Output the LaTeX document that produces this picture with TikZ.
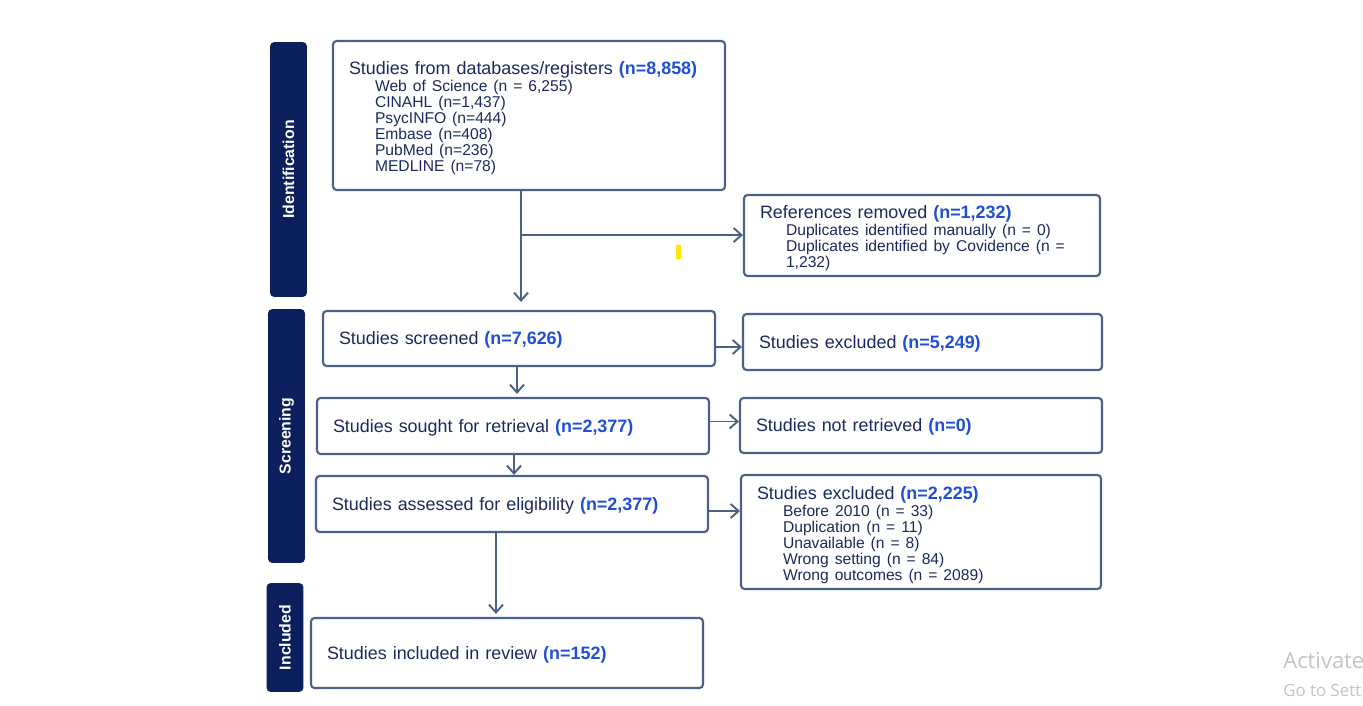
\documentclass[tikz,border=0pt]{standalone}
\usepackage{fontspec}
\setmainfont{Liberation Sans}
\newfontfamily\wmfont{Open Sans}
\usetikzlibrary{arrows.meta}
\definecolor{navy}{HTML}{0B1F5C}
\definecolor{txtnavy}{HTML}{1B2A5E}
\definecolor{nblue}{HTML}{1F4FD6}
\definecolor{boxline}{HTML}{4B6185}
\definecolor{wmgrey}{HTML}{C4C4C4}
\newcommand{\nb}[1]{\textbf{\color{nblue}#1}}
\newcommand{\ind}{\hspace*{0.52cm}}
\newcommand{\subsize}{\fontsize{8.9}{9.1}\selectfont}
\newcommand{\topstrut}{\rule{0pt}{10.8pt}}
\begin{document}
\begin{tikzpicture}[x=0.02cm, y=-0.02cm,
    box/.style={draw=boxline, line width=1.2pt, rounded corners=2pt, fill=white,
      inner xsep=0.32cm, inner ysep=2pt, align=left, text=txtnavy,
      font=\fontsize{10.2}{9.1}\selectfont},
    onebox/.style={box, text depth=0pt},
    phase/.style={fill=navy, rounded corners=2.5pt, rotate=90, minimum height=0.74cm,
      text=white, font=\bfseries\fontsize{9}{10}\selectfont},
    arr/.style={draw=boxline, line width=1.1pt, -{Straight Barb[length=4.5pt,width=8pt]}}]
    \useasboundingbox[fill=white] (0,0) rectangle (1363,706);
    \node[phase, minimum width=5.10cm] (ident) at (288.5,169.5) {Identification};
    \node[phase, minimum width=5.08cm] (screen) at (286.5,436) {Screening};
    \node[phase, minimum width=2.18cm] (incl) at (285,637.5) {Included};
    \node[box, minimum width=7.84cm, minimum height=2.98cm, text width=7.2cm] (db) at (529,115.5)
      {\topstrut Studies from databases/registers \nb{(n=8,858)}\\[0.5pt]\subsize
       \ind Web of Science (n = 6,255)\\ \ind CINAHL (n=1,437)\\ \ind PsycINFO (n=444)\\
       \ind Embase (n=408)\\ \ind PubMed (n=236)\\ \ind MEDLINE (n=78)};
    \node[box, minimum width=7.12cm, minimum height=1.62cm, text width=6.48cm] (refs) at (922,235.5)
      {\topstrut References removed \nb{(n=1,232)}\\[0.5pt]\subsize
       \ind Duplicates identified manually (n = 0)\\
       \ind Duplicates identified by Covidence (n =\\ \ind 1,232)};
    \node[onebox, minimum width=7.84cm, minimum height=1.10cm, text width=7.2cm] (screened) at (519,338.5)
      {Studies screened \nb{(n=7,626)}};
    \node[onebox, minimum width=7.18cm, minimum height=1.12cm, text width=6.54cm] (excl1) at (922.5,342)
      {Studies excluded \nb{(n=5,249)}};
    \node[onebox, minimum width=7.84cm, minimum height=1.12cm, text width=7.2cm] (sought) at (513,426)
      {Studies sought for retrieval \nb{(n=2,377)}};
    \node[onebox, minimum width=7.24cm, minimum height=1.10cm, text width=6.6cm] (notret) at (921,425.5)
      {Studies not retrieved \nb{(n=0)}};
    \node[onebox, minimum width=7.84cm, minimum height=1.12cm, text width=7.2cm] (assessed) at (512,504)
      {Studies assessed for eligibility \nb{(n=2,377)}};
    \node[box, minimum width=7.2cm, minimum height=2.28cm, text width=6.56cm] (excl2) at (921,532)
      {\topstrut Studies excluded \nb{(n=2,225)}\\[0.5pt]\subsize
       \ind Before 2010 (n = 33)\\ \ind Duplication (n = 11)\\ \ind Unavailable\ (n = 8)\\
       \ind Wrong setting (n = 84)\\ \ind Wrong outcomes (n = 2089)};
    \node[onebox, minimum width=7.84cm, minimum height=1.40cm, text width=7.2cm] (included) at (507,653)
      {Studies included in review \nb{(n=152)}};
    \draw[arr, shorten >=0.16cm] (db.south) ++(-8,0) coordinate (s0) -- (s0 |- screened.north);
    \path (s0) ++(0,44) coordinate (split);
    \draw[arr] (split) -- (split -| refs.west);
    \draw[arr, shorten >=0.06cm] (screened.south) ++(-2,0) coordinate (s1) -- (s1 |- sought.north);
    \draw[arr] (sought.south) ++(1,0) coordinate (s2) -- (s2 |- assessed.north);
    \draw[arr, shorten >=0.06cm] (assessed.south) ++(-16,0) coordinate (s3) -- (s3 |- included.north);
    \draw[arr] (screened.east) ++(0,8.5) coordinate (e1) -- (e1 -| excl1.west);
    \draw[arr] (sought.east) ++(0,-4.5) coordinate (e2) -- (e2 -| notret.west);
    \draw[arr] (assessed.east) ++(0,7) coordinate (e3) -- (e3 -| excl2.west);
    \fill[yellow!90!orange] (676,245) rectangle (681,259);
    \node[anchor=west, text=wmgrey, font=\wmfont\fontsize{12.5}{14}\selectfont, inner sep=0pt] (wm1) at (1283,661) {Activate};
    \node[anchor=west, text=wmgrey, font=\wmfont\fontsize{9.6}{11}\selectfont, inner sep=0pt] (wm2) at (1283,690) {Go to Sett};
\end{tikzpicture}
\end{document}
